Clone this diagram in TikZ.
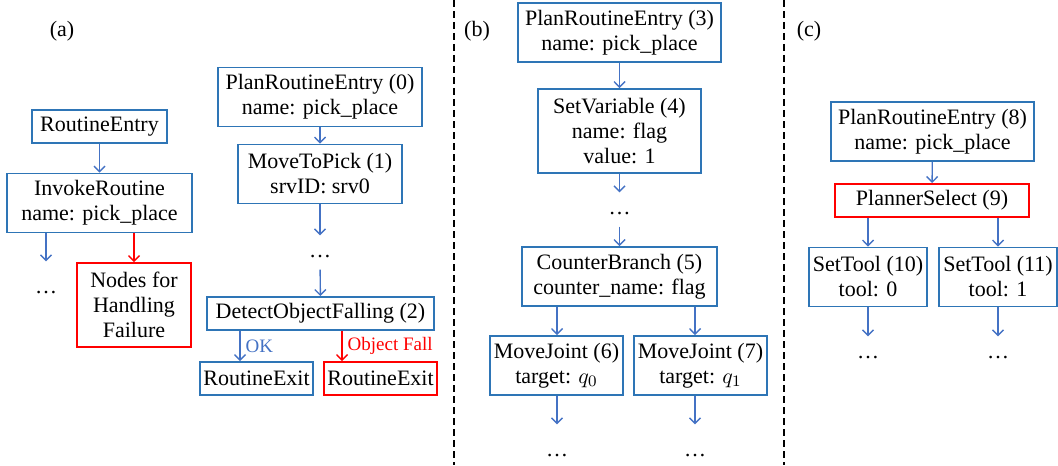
\documentclass[tikz,border=0pt]{standalone}
\usepackage{fontspec}
\setmainfont{Liberation Serif}
\usetikzlibrary{arrows.meta}
\definecolor{boxblue}{RGB}{46,117,182}
\definecolor{linkblue}{RGB}{68,114,196}
\definecolor{failred}{RGB}{255,0,0}

\begin{document}
\begin{tikzpicture}[
            x = 0.5pt, y = -0.5pt, % pixel grid, y pointing down
            > = {Straight Barb[length=2.8pt, width=5.5pt]}, % arrow head style
            font = \fontsize{11}{12.5}\selectfont,
            semithick % line style
        ]

        \tikzstyle{block}=[
            draw = boxblue,
            line width = 0.9pt,
            fill = white,
            align = center,
            inner sep = 0pt
        ]
        \tikzstyle{failblock}=[block, draw = failred]
        \tikzstyle{oneline}=[minimum height = 16.5pt]
        \tikzstyle{twoline}=[minimum height = 29.5pt]
        \tikzstyle{threeline}=[minimum height = 42pt]
        \tikzstyle{flow}=[->, color = linkblue, line width = 0.7pt]
        \tikzstyle{failflow}=[->, color = failred, line width = 0.7pt]
        \tikzstyle{gap}=[inner sep = 0pt, anchor = base, text height = 10.5pt, text depth = 6pt]
        \tikzstyle{tail}=[gap, text height = 15.5pt]
        \tikzstyle{branch}=[font = \fontsize{9.5}{11}\selectfont, right, inner sep = 2.5pt]
        \tikzstyle{divider}=[dashed, line width = 1pt, dash pattern = on 3.5pt off 2pt]

        \useasboundingbox (0,0) rectangle (1058,465);

        % (a) routine call and failure exit
        \node (lbla) at (62,31) {(a)};
        \node[block, oneline, minimum width=67.5pt] (re) at (99.5,126.5) {RoutineEntry};
        \node[block, twoline, minimum width=92.5pt] (ir) at (99.5,203) {InvokeRoutine\\name: pick\_place};
        \node[tail] (dl) at (46,293) {\dots};
        \node[failblock, threeline, minimum width=57pt] (nf) at (134,305) {Nodes for\\Handling\\Failure};

        \node[block, twoline, minimum width=102pt] (p0) at (320,97) {PlanRoutineEntry (0)\\name: pick\_place};
        \node[block, twoline, minimum width=82pt] (m1) at (320,174) {MoveToPick (1)\\srvID: srv0};
        \node[gap] (d0) at (320,257) {\dots};
        \node[block, oneline, minimum width=113.5pt] (dof) at (320.5,313.5) {DetectObjectFalling (2)};
        \node[block, oneline, minimum width=56.5pt] (rx1) at (256.5,378.5) {RoutineExit};
        \node[failblock, oneline, minimum width=56.5pt] (rx2) at (380.5,378.5) {RoutineExit};
        \coordinate (okx) at (240,0);
        \coordinate (fallx) at (342,0);

        \path[flow] (re) edge (ir);
        \path[flow] (ir.south -| dl) edge (dl);
        \path[failflow] (ir.south -| nf) edge (nf);
        \path[flow] (p0) edge (m1);
        \path[flow] (m1) edge (d0);
        \path[flow] (d0) edge (dof);
        \path[flow] (dof.south -| okx) edge node[branch] {OK} (rx1.north -| okx);
        \path[failflow] (dof.south -| fallx) edge node[branch] {Object Fall} (rx2.north -| fallx);

        \draw[divider] (454,0) -- (454,465);

        % (b) counter branch
        \node (lblb) at (477,31) {(b)};
        \node[block, twoline, minimum width=101.5pt] (p3) at (619.5,32.5) {PlanRoutineEntry (3)\\name: pick\_place};
        \node[block, threeline, minimum width=81.5pt] (sv) at (619.5,131) {SetVariable (4)\\name: flag\\value: 1};
        \node[gap] (d3) at (619.5,214) {\dots};
        \node[block, twoline, minimum width=97.5pt] (cb) at (619.5,276.5) {CounterBranch (5)\\counter\_name: flag};
        \node[block, twoline, minimum width=66.5pt] (mj6) at (556.5,365.5) {MoveJoint (6)\\target: $q_0$};
        \node[block, twoline, minimum width=66.5pt] (mj7) at (700.5,365.5) {MoveJoint (7)\\target: $q_1$};
        \node[tail] (d6) at (557,456) {\dots};
        \node[tail] (d7) at (695,456) {\dots};

        \path[flow] (p3) edge (sv);
        \path[flow] (sv) edge (d3);
        \path[flow] (d3) edge (cb);
        \path[flow] (cb.south -| d6) edge (mj6.north -| d6);
        \path[flow] (cb.south -| d7) edge (mj7.north -| d7);
        \path[flow] (mj6.south -| d6) edge (d6);
        \path[flow] (mj7.south -| d7) edge (d7);

        \draw[divider] (784,0) -- (784,465);

        % (c) planner selection
        \node (lblc) at (809,31) {(c)};
        \node[block, twoline, minimum width=101.5pt] (p8) at (932.5,131.5) {PlanRoutineEntry (8)\\name: pick\_place};
        \node[failblock, oneline, minimum width=97pt] (ps) at (932,200.5) {PlannerSelect (9)};
        \node[block, twoline, minimum width=59pt] (st10) at (868,277) {SetTool (10)\\tool: 0};
        \node[block, twoline, minimum width=59pt] (st11) at (998,277) {SetTool (11)\\tool: 1};
        \node[gap] (d10) at (868,358) {\dots};
        \node[gap] (d11) at (998,358) {\dots};

        \path[flow] (p8) edge (ps);
        \path[flow] (ps.south -| st10) edge (st10);
        \path[flow] (ps.south -| st11) edge (st11);
        \path[flow] (st10) edge (d10);
        \path[flow] (st11) edge (d11);
    \end{tikzpicture}
\end{document}
